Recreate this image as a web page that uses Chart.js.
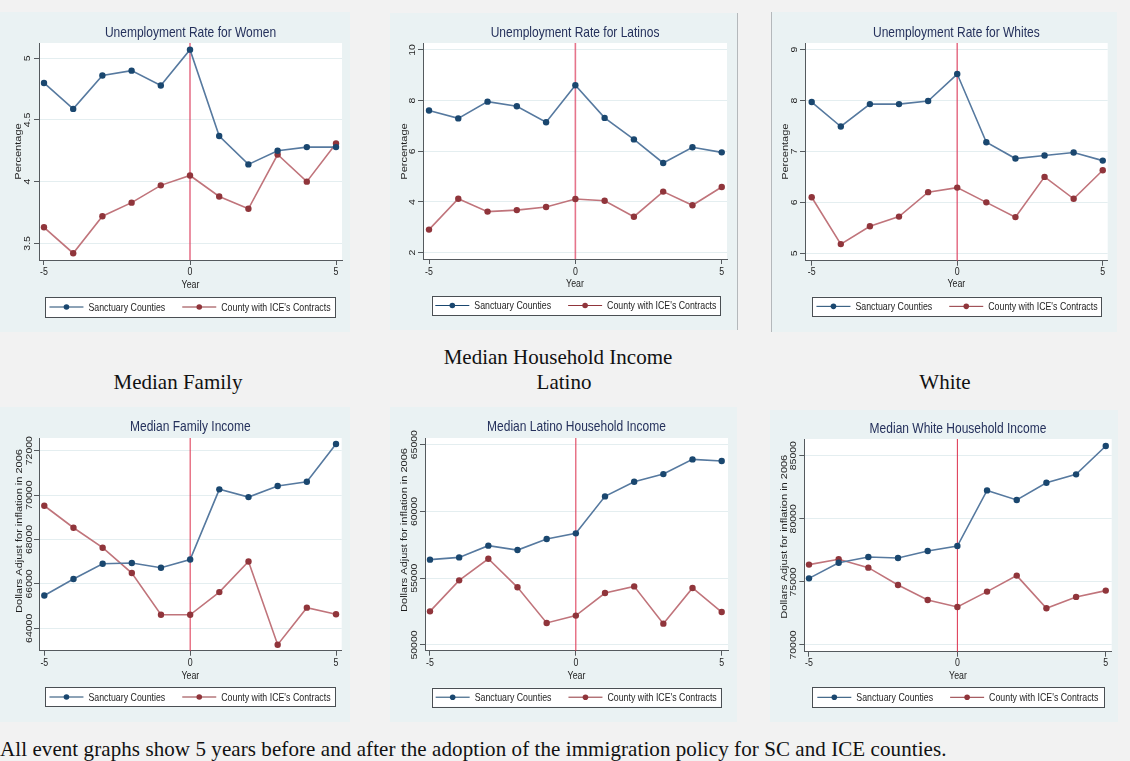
<!DOCTYPE html>
<html>
<head>
<meta charset="utf-8">
<title>Event graphs: sanctuary counties vs. counties with ICE contracts</title>
<script src="https://cdn.jsdelivr.net/npm/chart.js@4.4.1/dist/chart.umd.min.js"></script>
<style>
  html, body { margin: 0; padding: 0; }
  body { width: 1130px; height: 761px; overflow: hidden; position: relative; background: #f2f2f2;
         font-family: 'Liberation Serif', 'Times New Roman', serif; }
  .panel { position: absolute; background: #eaf2f3; }
  .panel canvas { display: block; }
  .rule { position: absolute; background: #b4b8bb; }
  .cap { position: absolute; font-size: 21px; line-height: 24px; color: #111; white-space: nowrap; text-align: center; }
</style>
</head>
<body>

<div class="cap" style="left:358px; top:345px; width:400px;">Median Household Income</div>
<div class="cap" style="left:28px; top:370px; width:300px;">Median Family</div>
<div class="cap" style="left:414px; top:370px; width:300px;">Latino</div>
<div class="cap" style="left:795px; top:370px; width:300px;">White</div>
<div class="cap" style="left:0; top:737px; text-align:left; letter-spacing:0.08px;">All event graphs show 5 years before and after the adoption of the immigration policy for SC and ICE counties.</div>

<script>
// ---- data -------------------------------------------------------------
const years = [-5, -4, -3, -2, -1, 0, 1, 2, 3, 4, 5];
const yearTicks = [-5, 0, 5];
const policyYear = 0;
const seriesNames = ['Sanctuary Counties', "County with ICE's Contracts"];

const womenSanctuary = [4.80, 4.59, 4.86, 4.90, 4.78, 5.07, 4.37, 4.14, 4.25, 4.28, 4.28];
const womenIce       = [3.63, 3.42, 3.72, 3.83, 3.97, 4.05, 3.88, 3.78, 4.22, 4.00, 4.31];
const womenTicks     = [3.5, 4, 4.5, 5];

const latinoSanctuary = [7.61, 7.30, 7.96, 7.78, 7.15, 8.61, 7.32, 6.47, 5.54, 6.16, 5.96];
const latinoIce       = [2.91, 4.13, 3.62, 3.68, 3.80, 4.12, 4.05, 3.42, 4.41, 3.87, 4.59];
const latinoTicks     = [2, 4, 6, 8, 10];

const whiteSanctuary = [7.97, 7.49, 7.93, 7.93, 7.99, 8.52, 7.18, 6.86, 6.92, 6.98, 6.82];
const whiteIce       = [6.10, 5.18, 5.53, 5.72, 6.20, 6.29, 6.00, 5.71, 6.50, 6.07, 6.63];
const whiteTicks     = [5, 6, 7, 8, 9];

const familyIncomeSanctuary = [65480, 66220, 66910, 66940, 66730, 67100, 70260, 69910, 70410, 70600, 72300];
const familyIncomeIce       = [69520, 68530, 67630, 66490, 64610, 64610, 65630, 67010, 63260, 64930, 64630];
const familyIncomeTicks     = [64000, 66000, 68000, 70000, 72000];

const latinoIncomeSanctuary = [56390, 56560, 57440, 57110, 57940, 58360, 61130, 62230, 62800, 63900, 63780];
const latinoIncomeIce       = [52520, 54840, 56460, 54320, 51650, 52200, 53890, 54390, 51600, 54270, 52470];
const latinoIncomeTicks     = [50000, 55000, 60000, 65000];

const whiteIncomeSanctuary = [75280, 76520, 76970, 76890, 77450, 77840, 82250, 81490, 82860, 83520, 85770];
const whiteIncomeIce       = [76370, 76790, 76130, 74760, 73570, 73010, 74230, 75500, 72910, 73810, 74310];
const whiteIncomeTicks     = [70000, 75000, 80000, 85000];

// ---- styling ------------------------------------------------------------
const SANS = "'Liberation Sans', Arial, Helvetica, sans-serif";
const SQUEEZE = 0.8;            // horizontal text compression used by the graph panels
const NAVY = '#1a476f', NAVY_LINE = '#56799f';
const MAROON = '#90353b', MAROON_LINE = '#c0747b';
const AXIS = '#555a5e', TEXT = '#1e1e1e', TITLE = '#25315c', GRID = '#e4eef0';

// panel geometry: box = [left, top, width, height]; area = [left, right, top, bottom] of the plot region
const panels = [
  { title: 'Unemployment Rate for Women', yTitle: 'Percentage', a: womenSanctuary, b: womenIce, yTicks: womenTicks, fmt: v => String(v),
    box: [0, 12, 350, 320], area: [39, 342, 31, 248], xRange: [-5.171, 5.205], yRange: [3.365, 5.124],
    titleY: 21, yTickX: 28, yTitleX: 19, yTitleCY: 139.5, xTickY: 260, xTitleY: 273, legend: [45, 335, 285, 305], vline: ['rgba(222,70,100,0.75)', 1.6] },
  { title: 'Unemployment Rate for Latinos', yTitle: 'Percentage', a: latinoSanctuary, b: latinoIce, yTicks: latinoTicks, fmt: v => String(v),
    box: [390, 13, 347, 317], area: [33, 337, 30, 246], xRange: [-5.205, 5.18], yRange: [1.75, 10.276],
    titleY: 20, yTickX: 23, yTitleX: 15, yTitleCY: 138.5, xTickY: 258.7, xTitleY: 271, legend: [41.7, 330, 283, 302], vline: ['rgba(222,70,100,0.75)', 1.6] },
  { title: 'Unemployment Rate for Whites', yTitle: 'Percentage', a: whiteSanctuary, b: whiteIce, yTicks: whiteTicks, fmt: v => String(v),
    box: [772, 12, 345, 320], area: [33, 335.7, 31, 248.7], xRange: [-5.23, 5.17], yRange: [4.854, 9.13],
    titleY: 21, yTickX: 23, yTitleX: 13.7, yTitleCY: 139.7, xTickY: 260, xTitleY: 272, legend: [40.3, 329.7, 284.7, 304], vline: ['rgba(222,70,100,0.75)', 1.6] },
  { title: 'Median Family Income', yTitle: 'Dollars Adjust for inflation in 2006', a: familyIncomeSanctuary, b: familyIncomeIce, yTicks: familyIncomeTicks, fmt: v => String(v),
    box: [0, 407, 350, 315], area: [39, 341.7, 31, 243.7], xRange: [-5.182, 5.195], yRange: [62991, 72572],
    titleY: 19.7, yTickX: 30, yTitleX: 19.3, yTitleCY: 124, xTickY: 256.3, xTitleY: 268.7, legend: [45, 335, 280.3, 299.7], vline: ['#dc2f4c', 1] },
  { title: 'Median Latino Household Income', yTitle: 'Dollars Adjust for inflation in 2006', a: latinoIncomeSanctuary, b: latinoIncomeIce, yTicks: latinoIncomeTicks, fmt: v => String(v),
    box: [390, 407, 347, 315], area: [35, 338, 31, 243.7], xRange: [-5.171, 5.216], yRange: [49573, 65502],
    titleY: 20.3, yTickX: 24.3, yTitleX: 15, yTitleCY: 123, xTickY: 256.3, xTitleY: 268.7, legend: [41.7, 330.7, 280.7, 299.7], vline: ['#dc2f4c', 1] },
  { title: 'Median White Household Income', yTitle: 'Dollars Adjust for inflation in 2006', a: whiteIncomeSanctuary, b: whiteIncomeIce, yTicks: whiteIncomeTicks, fmt: v => String(v),
    box: [770, 410, 348, 312], area: [34.3, 341.7, 29, 241.7], xRange: [-5.158, 5.2], yRange: [69469, 86323],
    titleY: 19, yTickX: 23.3, yTitleX: 15, yTitleCY: 126.7, xTickY: 253.3, xTitleY: 265.7, legend: [41.7, 334, 277.3, 297.3], vline: ['#dc2f4c', 1] }
];

// thin frame lines between some of the panels
const rules = [
  [737, 13, 1, 317], [771, 12, 1, 320], [4, 408, 1, 310], [390, 407, 347, 1]
];

// ---- helpers ------------------------------------------------------------
function squeezedText(ctx, text, x, y, font, color, align, rotate) {
  ctx.save();
  ctx.translate(x, y);
  ctx.scale(SQUEEZE, 1);
  if (rotate) ctx.rotate(-Math.PI / 2);
  ctx.font = font;
  ctx.fillStyle = color;
  ctx.textAlign = align || 'center';
  ctx.textBaseline = 'middle';
  ctx.fillText(text, 0, 0);
  ctx.restore();
}

function decorPlugin(p) {
  return {
    id: 'panelDecor',
    beforeDraw(chart) {
      const { ctx, chartArea: c } = chart;
      ctx.save();
      ctx.fillStyle = '#ffffff';
      ctx.fillRect(c.left, c.top, c.right - c.left, c.bottom - c.top);
      ctx.restore();
    },
    beforeDatasetsDraw(chart) {
      const { ctx, chartArea: c, scales } = chart;
      const x = scales.x.getPixelForValue(policyYear);
      ctx.save();
      ctx.strokeStyle = p.vline[0];
      ctx.lineWidth = p.vline[1];
      ctx.beginPath();
      ctx.moveTo(x, c.top);
      ctx.lineTo(x, c.bottom);
      ctx.stroke();
      ctx.restore();
    },
    afterDraw(chart) {
      const { ctx, chartArea: c, scales } = chart;
      // title
      squeezedText(ctx, p.title, (c.left + c.right) / 2, p.titleY, `15px ${SANS}`, TITLE, 'center');
      // y tick labels (vertical)
      p.yTicks.forEach(v => {
        squeezedText(ctx, p.fmt(v), p.yTickX, scales.y.getPixelForValue(v), `10.5px ${SANS}`, TEXT, 'center', true);
      });
      // y axis title
      squeezedText(ctx, p.yTitle, p.yTitleX, p.yTitleCY, `11px ${SANS}`, TEXT, 'center', true);
      // x tick labels and title
      yearTicks.forEach(v => {
        squeezedText(ctx, String(v), scales.x.getPixelForValue(v), p.xTickY, `11px ${SANS}`, TEXT, 'center');
      });
      squeezedText(ctx, 'Year', (c.left + c.right) / 2, p.xTitleY, `11px ${SANS}`, TEXT, 'center');
      // legend box
      const [ll, lr, lt, lb] = p.legend;
      ctx.save();
      ctx.fillStyle = '#ffffff';
      ctx.fillRect(ll, lt, lr - ll, lb - lt);
      ctx.strokeStyle = '#4a4f53';
      ctx.lineWidth = 1;
      ctx.strokeRect(Math.round(ll) + 0.5, Math.round(lt) + 0.5, Math.round(lr - ll), Math.round(lb - lt));
      ctx.font = `11px ${SANS}`;
      const ds = chart.data.datasets;
      const symW = 34, gapT = 5, gapItem = 17;
      const widths = ds.map(d => ctx.measureText(d.label).width * SQUEEZE);
      const total = ds.length * (symW + gapT) + widths.reduce((s, w) => s + w, 0) + gapItem * (ds.length - 1);
      let x = (ll + lr) / 2 - total / 2;
      const cy = (lt + lb) / 2;
      ds.forEach((d, i) => {
        ctx.strokeStyle = d.pointBackgroundColor;
        ctx.lineWidth = 1;
        ctx.beginPath();
        ctx.moveTo(x, cy);
        ctx.lineTo(x + symW, cy);
        ctx.stroke();
        ctx.fillStyle = d.pointBackgroundColor;
        ctx.beginPath();
        ctx.arc(x + symW / 2, cy, 2.8, 0, Math.PI * 2);
        ctx.fill();
        squeezedText(ctx, d.label, x + symW + gapT, cy + 0.5, `11px ${SANS}`, TEXT, 'left');
        x += symW + gapT + widths[i] + gapItem;
      });
      ctx.restore();
    }
  };
}

function buildPanel(p) {
  const [bx, by, bw, bh] = p.box;
  const [al, ar, at, ab] = p.area;
  const xAxisH = 20;
  const div = document.createElement('div');
  div.className = 'panel';
  Object.assign(div.style, { left: bx + 'px', top: by + 'px', width: bw + 'px', height: bh + 'px' });
  const canvas = document.createElement('canvas');
  canvas.width = bw;
  canvas.height = bh;
  div.appendChild(canvas);
  document.body.appendChild(div);

  const series = (label, values, marker, line) => ({
    label,
    data: years.map((yr, i) => ({ x: yr, y: values[i] })),
    borderColor: line,
    borderWidth: 1.6,
    pointRadius: 3.2,
    pointHoverRadius: 3.2,
    pointBackgroundColor: marker,
    pointBorderColor: marker,
    pointBorderWidth: 0,
    tension: 0,
    fill: false
  });

  new Chart(canvas, {
    type: 'line',
    data: { datasets: [series(seriesNames[0], p.a, NAVY, NAVY_LINE), series(seriesNames[1], p.b, MAROON, MAROON_LINE)] },
    options: {
      responsive: false,
      animation: false,
      devicePixelRatio: 1,
      events: [],
      layout: { padding: { left: 0, top: at, right: bw - ar, bottom: bh - ab - xAxisH } },
      plugins: { legend: { display: false }, title: { display: false }, tooltip: { enabled: false } },
      scales: {
        x: {
          type: 'linear', min: p.xRange[0], max: p.xRange[1],
          afterFit: s => { s.height = xAxisH; },
          afterBuildTicks: s => { s.ticks = yearTicks.map(v => ({ value: v })); },
          ticks: { display: false },
          grid: { drawOnChartArea: false, drawTicks: true, tickLength: 5, tickColor: AXIS },
          border: { display: true, color: AXIS, width: 1 }
        },
        y: {
          type: 'linear', min: p.yRange[0], max: p.yRange[1],
          afterFit: s => { s.width = al; },
          afterBuildTicks: s => { s.ticks = p.yTicks.map(v => ({ value: v })); },
          ticks: { display: false },
          grid: { color: GRID, lineWidth: 1, drawTicks: true, tickLength: 5, tickColor: AXIS },
          border: { display: true, color: AXIS, width: 1 }
        }
      }
    },
    plugins: [decorPlugin(p)]
  });
}

rules.forEach(([l, t, w, h]) => {
  const r = document.createElement('div');
  r.className = 'rule';
  Object.assign(r.style, { left: l + 'px', top: t + 'px', width: w + 'px', height: h + 'px' });
  document.body.appendChild(r);
});
panels.forEach(buildPanel);
</script>
</body>
</html>
